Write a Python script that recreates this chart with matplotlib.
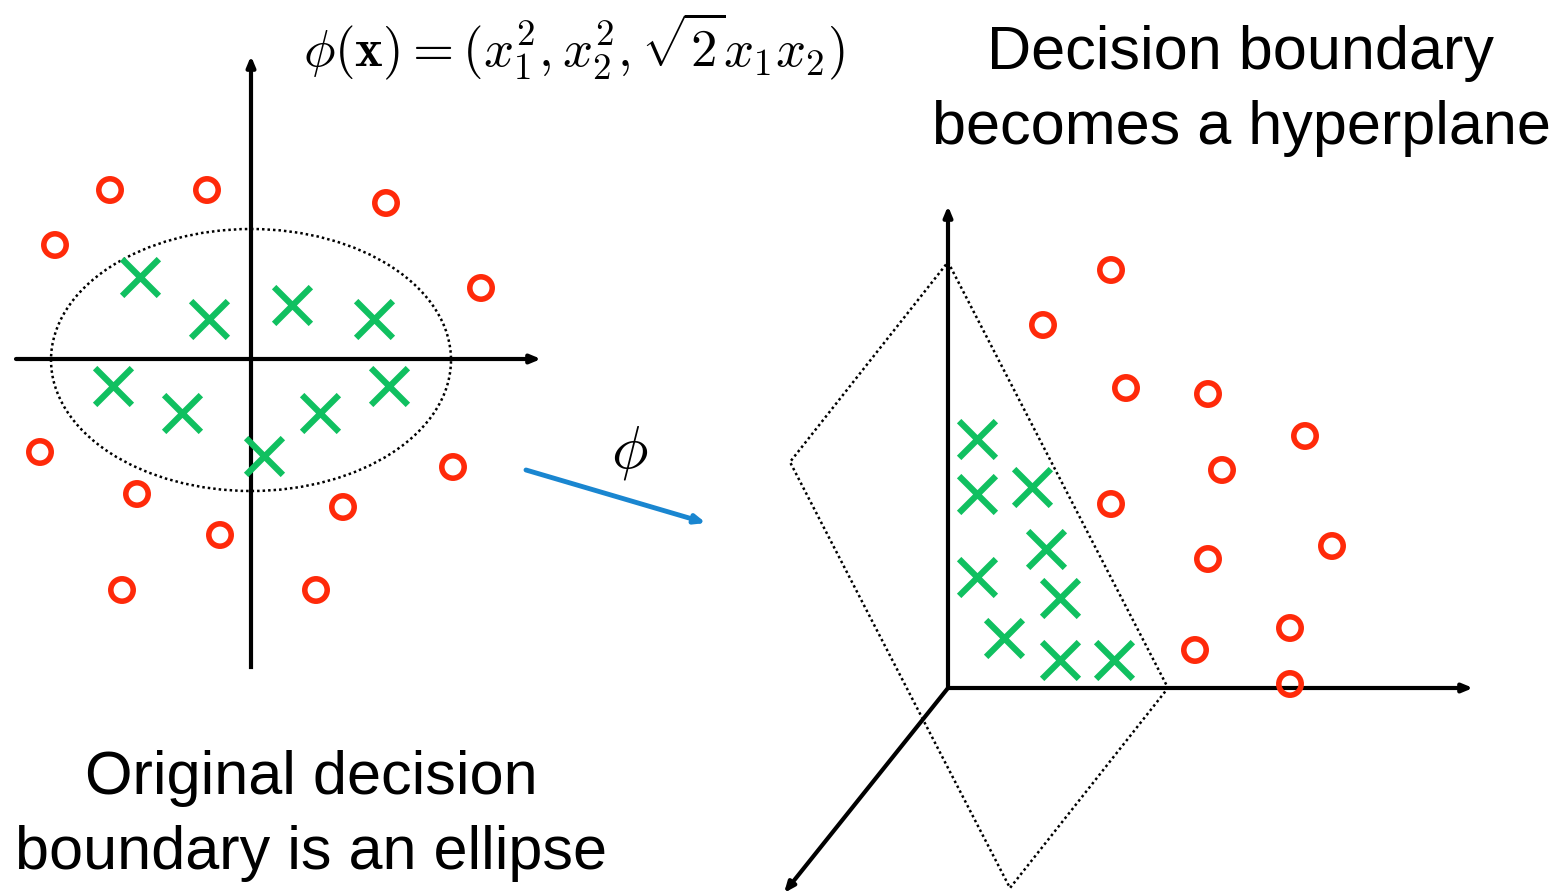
import numpy as np
import matplotlib.pyplot as plt
from matplotlib.patches import Ellipse, Polygon

plt.rcParams['mathtext.fontset'] = 'cm'

# pixel-space coordinates of the diagram points (y grows downward)
left_red_x = [110, 207, 386, 55, 481, 40, 453, 137, 343, 220, 122, 316]
left_red_y = [190, 190, 203, 245, 288, 452, 467, 494, 507, 535, 590, 590]
left_green_x = [140, 209, 292, 374, 113, 182, 320, 389, 264]
left_green_y = [277, 319, 305, 319, 386, 413, 413, 386, 456]

right_red_x = [1111, 1043, 1126, 1208, 1305, 1222, 1111, 1332, 1208, 1290, 1195, 1290]
right_red_y = [270, 325, 388, 394, 436, 470, 504, 546, 559, 628, 650, 684]
right_green_x = [977, 977, 1032, 1046, 977, 1060, 1004, 1060, 1114]
right_green_y = [439, 494, 487, 549, 577, 598, 638, 660, 660]

plane_x = [948, 1168, 1010, 790]
plane_y = [262, 688, 888, 462]

red = '#FF2A0A'
green = '#10C060'

fig = plt.figure(figsize=(15.56, 8.91), dpi=100)
ax = fig.add_axes([0, 0, 1, 1])
ax.set_xlim(0, 1556)
ax.set_ylim(891, 0)
ax.axis('off')

def arrow(x0, y0, x1, y1, color='black', lw=3):
    ax.annotate('', xy=(x1, y1), xytext=(x0, y0), annotation_clip=False,
                arrowprops=dict(arrowstyle='-|>,head_length=0.6,head_width=0.25',
                                color=color, lw=lw, shrinkA=0, shrinkB=0))

# left plot axes
arrow(16, 359, 541, 359)
ax.plot([251, 251], [667, 359], color='black', lw=3)
arrow(251, 359, 251, 56)
ax.add_patch(Ellipse((251, 360), 400, 262, fill=False, ls=(0, (1, 1.2)), lw=1.8, color='black'))

ax.scatter(left_red_x, left_red_y, s=260, facecolors='none', edgecolors=red, linewidths=4, zorder=3)
ax.scatter(left_green_x, left_green_y, s=700, marker='x', color=green, linewidths=4.5, zorder=3)

# mapping arrow
arrow(526, 470, 706, 523, color='#1A86D0', lw=3.5)
ax.text(630, 452, r'$\phi$', fontsize=44, ha='center', va='center')

# right 3d axes
ax.add_patch(Polygon(list(zip(plane_x, plane_y)), closed=True, fill=False,
                     ls=(0, (1, 1.2)), lw=1.8, color='black'))
arrow(948, 688, 948, 206)
arrow(948, 688, 1473, 688)
arrow(948, 688, 784, 893)

ax.scatter(right_red_x, right_red_y, s=260, facecolors='none', edgecolors=red, linewidths=4, zorder=3)
ax.scatter(right_green_x, right_green_y, s=700, marker='x', color=green, linewidths=4.5, zorder=3)

# texts
ax.text(574, 46, r'$\phi(\mathbf{x}) = (x_1^2, x_2^2, \sqrt{2}x_1x_2)$', fontsize=38,
        ha='center', va='center')
ax.text(311, 816, 'Original decision\nboundary is an ellipse', fontsize=44,
        family='Liberation Sans', ha='center', va='center', linespacing=1.42)
ax.text(1241, 91, 'Decision boundary\nbecomes a hyperplane', fontsize=44,
        family='Liberation Sans', ha='center', va='center', linespacing=1.42)

fig.savefig('out.png', dpi=100)
